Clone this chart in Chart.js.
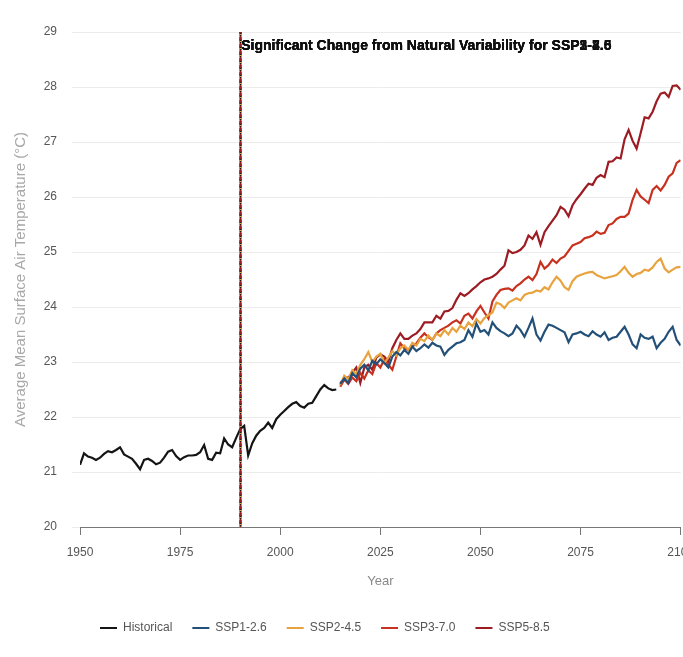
<!DOCTYPE html>
<html>
<head>
<meta charset="utf-8">
<script src="https://cdn.jsdelivr.net/npm/chart.js@4.4.1/dist/chart.umd.min.js"></script>
<style>
  html, body { margin: 0; padding: 0; background: #ffffff; overflow: hidden; }
  #wrap { position: relative; width: 704px; height: 657px; }
</style>
</head>
<body>
<div id="wrap"><canvas id="chart"></canvas></div>
<script>
// Observed annual mean surface air temperature, 1950 onward (°C)
const histStart = 1950;
const historical = [
  21.13, 21.34, 21.28, 21.26, 21.22, 21.26, 21.33, 21.38, 21.36, 21.40,
  21.45, 21.32, 21.28, 21.24, 21.15, 21.05, 21.22, 21.24, 21.20, 21.14,
  21.17, 21.26, 21.37, 21.40, 21.29, 21.22, 21.27, 21.30, 21.30, 21.31,
  21.36, 21.49, 21.24, 21.22, 21.35, 21.34, 21.61, 21.50, 21.45, 21.62,
  21.78, 21.84, 21.30, 21.52, 21.66, 21.75, 21.80, 21.90, 21.80, 21.96,
  22.04, 22.11, 22.18, 22.24, 22.27, 22.20, 22.17, 22.24, 22.26, 22.38,
  22.50, 22.58, 22.52, 22.49, 22.50
];

// Scenario projections, 2015 onward (°C)
const projStart = 2015;
const ssp126 = [
  22.60, 22.70, 22.62, 22.80, 22.72, 22.88, 22.95, 22.85, 23.02, 22.96,
  23.05, 22.98, 22.90, 23.10, 23.18, 23.12, 23.22, 23.15, 23.28, 23.20,
  23.25, 23.32, 23.26, 23.35, 23.30, 23.28, 23.13, 23.22, 23.28, 23.34,
  23.36, 23.40, 23.58, 23.46, 23.70, 23.55, 23.58, 23.50, 23.72, 23.62,
  23.56, 23.52, 23.47, 23.52, 23.66, 23.58, 23.46, 23.62, 23.79, 23.50,
  23.39, 23.55, 23.68, 23.66, 23.62, 23.58, 23.54, 23.36, 23.50, 23.52,
  23.55, 23.50, 23.47, 23.56, 23.50, 23.46, 23.54, 23.40, 23.44, 23.46,
  23.55, 23.64, 23.50, 23.32, 23.25, 23.50, 23.44, 23.42, 23.46, 23.25,
  23.35, 23.42, 23.55, 23.64, 23.40, 23.30
];
const ssp245 = [
  22.58, 22.75, 22.68, 22.85, 22.78, 22.95, 23.05, 23.18, 23.00, 23.10,
  23.15, 22.98, 23.08, 23.20, 23.12, 23.25, 23.30, 23.22, 23.35, 23.30,
  23.42, 23.38, 23.48, 23.40, 23.52, 23.47, 23.58, 23.50, 23.62, 23.55,
  23.66, 23.60, 23.72, 23.65, 23.78, 23.70, 23.80, 23.85, 23.90, 24.08,
  24.05, 23.98, 24.08, 24.12, 24.16, 24.12, 24.22, 24.25, 24.26, 24.30,
  24.28, 24.36, 24.32, 24.45, 24.55, 24.48, 24.36, 24.31, 24.47, 24.55,
  24.58, 24.61, 24.63, 24.64, 24.58, 24.55, 24.52, 24.54, 24.56, 24.58,
  24.65, 24.73, 24.62, 24.55, 24.60, 24.62, 24.68, 24.66, 24.72, 24.82,
  24.88, 24.70, 24.63, 24.68, 24.72, 24.73
];
const ssp370 = [
  22.55, 22.68, 22.60, 22.72, 22.65, 22.80, 22.70, 22.85, 22.78, 22.98,
  22.90, 23.05, 22.95, 22.86, 23.10, 23.34, 23.25, 23.22, 23.28, 23.34,
  23.44, 23.52, 23.45, 23.40, 23.52, 23.58, 23.62, 23.66, 23.72, 23.76,
  23.70, 23.84, 23.88, 23.79, 23.92, 24.02, 23.90, 23.79, 24.10, 24.22,
  24.31, 24.33, 24.34, 24.30, 24.38, 24.43, 24.50, 24.55, 24.49, 24.60,
  24.82, 24.70, 24.76, 24.86, 24.80, 24.88, 24.92, 25.02, 25.12, 25.15,
  25.18, 25.25, 25.27, 25.30, 25.37, 25.33, 25.35, 25.49, 25.52, 25.60,
  25.64, 25.64, 25.70, 25.95, 26.13, 26.01, 25.95, 25.89, 26.13, 26.20,
  26.12, 26.22, 26.37, 26.43, 26.62, 26.67
];
const ssp585 = [
  22.62, 22.70, 22.72, 22.80, 22.90, 22.62, 22.90, 22.95, 22.86, 23.08,
  23.14, 23.10, 23.01, 23.25, 23.40, 23.52, 23.42, 23.42, 23.48, 23.52,
  23.60, 23.72, 23.72, 23.72, 23.84, 23.79, 23.92, 23.93, 23.98, 24.13,
  24.25, 24.20, 24.25, 24.32, 24.38, 24.45, 24.50, 24.52, 24.55, 24.60,
  24.68, 24.75, 25.03, 24.98, 25.00, 25.04, 25.12, 25.30, 25.24, 25.36,
  25.13, 25.36, 25.47, 25.57, 25.67, 25.82, 25.77, 25.65, 25.85, 25.96,
  26.05, 26.15, 26.24, 26.22, 26.35, 26.40, 26.36, 26.64, 26.65, 26.72,
  26.70, 27.05, 27.22, 27.02, 26.88, 27.16, 27.45, 27.43, 27.55, 27.74,
  27.88, 27.90, 27.82, 28.02, 28.03, 27.95
];

const seriesNames = ['Historical', 'SSP1-2.6', 'SSP2-4.5', 'SSP3-7.0', 'SSP5-8.5'];
const seriesColors = ['#151515', '#235079', '#e8a33e', '#c9311f', '#9c1c24'];

// Year in which each scenario departs from natural variability
const emergenceScenarios = ['SSP1-2.6', 'SSP2-4.5', 'SSP3-7.0', 'SSP5-8.5'];
const emergenceYears = [1990, 1990, 1990, 1990];

const yearTicks = [1950, 1975, 2000, 2025, 2050, 2075, 2100];

function toPoints(start, values) {
  return values.map((v, i) => ({ x: start + i, y: v }));
}

const seriesData = [
  toPoints(histStart, historical),
  toPoints(projStart, ssp126),
  toPoints(projStart, ssp245),
  toPoints(projStart, ssp370),
  toPoints(projStart, ssp585)
];

const datasets = seriesNames.map((name, i) => ({
  label: name,
  data: seriesData[i],
  borderColor: seriesColors[i],
  backgroundColor: seriesColors[i],
  borderWidth: 2.2,
  pointRadius: 0,
  pointHoverRadius: 0,
  tension: 0,
  fill: false
}));

// Vertical emergence markers with their captions
const emergencePlugin = {
  id: 'emergenceMarkers',
  afterDatasetsDraw(chart) {
    const { ctx, chartArea, scales } = chart;
    ctx.save();
    emergenceYears.forEach((yr, i) => {
      const px = Math.round(scales.x.getPixelForValue(yr)) + 0.5;
      const color = seriesColors[seriesNames.indexOf(emergenceScenarios[i])];
      ctx.strokeStyle = i % 2 === 0 ? '#1a1a1a' : color;
      ctx.lineWidth = 2;
      ctx.setLineDash([4, 3]);
      ctx.lineDashOffset = i;
      ctx.beginPath();
      ctx.moveTo(px, chartArea.top);
      ctx.lineTo(px, chartArea.bottom);
      ctx.stroke();
    });
    ctx.setLineDash([]);
    ctx.font = 'bold 14px "Liberation Sans", Arial, sans-serif';
    ctx.fillStyle = '#111111';
    ctx.textAlign = 'left';
    ctx.textBaseline = 'middle';
    emergenceYears.forEach((yr, i) => {
      const px = scales.x.getPixelForValue(yr);
      ctx.fillText('Significant Change from Natural Variability for ' + emergenceScenarios[i],
        px + 1, chartArea.top + 14);
    });
    ctx.restore();
  }
};

const tickFont = { family: '"Liberation Sans", Arial, sans-serif', size: 12 };

new Chart(document.getElementById('chart'), {
  type: 'line',
  data: { datasets },
  plugins: [emergencePlugin],
  options: {
    responsive: true,
    maintainAspectRatio: false,
    animation: false,
    layout: { padding: { top: 32, left: 8, right: 0, bottom: 13 } },
    plugins: {
      tooltip: { enabled: false },
      legend: {
        position: 'bottom',
        align: 'start',
        fullSize: false,
        labels: {
          usePointStyle: true,
          pointStyle: 'line',
          pointStyleWidth: 17,
          color: '#555555',
          padding: 20,
          font: { family: '"Liberation Sans", Arial, sans-serif', size: 12 }
        }
      }
    },
    scales: {
      x: {
        type: 'linear',
        min: 1950,
        max: 2100,
        afterBuildTicks(scale) {
          scale.ticks = yearTicks.map(v => ({ value: v }));
        },
        ticks: {
          color: '#555555',
          font: tickFont,
          padding: 10,
          maxRotation: 0,
          callback: v => String(v)
        },
        grid: {
          drawOnChartArea: false,
          drawTicks: true,
          tickLength: 8,
          color: '#777777'
        },
        border: { display: true, color: '#777777', width: 1 },
        title: {
          display: true,
          text: 'Year',
          color: '#888888',
          font: { family: '"Liberation Sans", Arial, sans-serif', size: 13 },
          padding: { top: 4, bottom: 13 }
        }
      },
      y: {
        min: 20,
        max: 29,
        ticks: {
          stepSize: 1,
          color: '#555555',
          font: tickFont,
          padding: 15
        },
        grid: {
          color: '#ececec',
          drawTicks: true,
          tickLength: 8
        },
        border: { display: false },
        title: {
          display: true,
          text: 'Average Mean Surface Air Temperature (°C)',
          color: '#a8a8a8',
          font: { family: '"Liberation Sans", Arial, sans-serif', size: 15 },
          padding: { top: 4, bottom: 4 }
        },
        afterFit(scale) { scale.width = 72; }
      }
    }
  }
});
</script>
</body>
</html>
